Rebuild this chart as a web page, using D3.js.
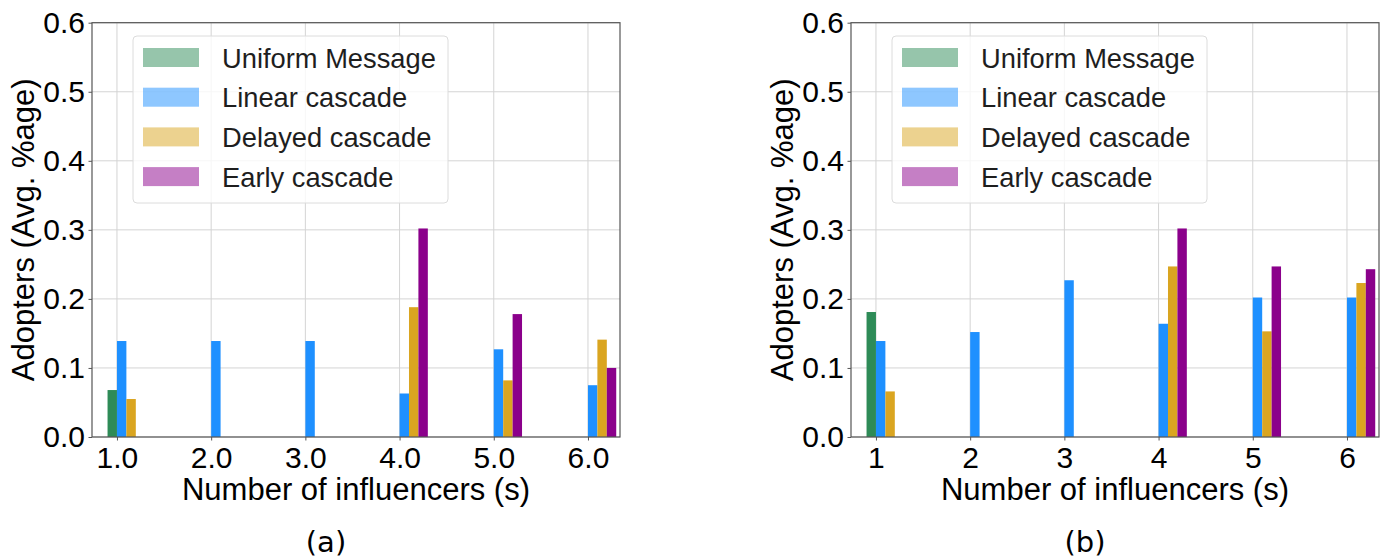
<!DOCTYPE html>
<html>
<head>
<meta charset="utf-8">
<script src="https://cdn.jsdelivr.net/npm/d3@7"></script>
<style>
  body { margin: 0; background: #fff; }
  svg { display: block; }
  text { font-family: "Liberation Sans", Arial, sans-serif; }
</style>
</head>
<body>
<div id="chart"></div>
<script>
// data
var influencers = [1, 2, 3, 4, 5, 6];
var xTickLabelsA = ["1.0", "2.0", "3.0", "4.0", "5.0", "6.0"];
var xTickLabelsB = ["1", "2", "3", "4", "5", "6"];
var yTicks = [0, 0.1, 0.2, 0.3, 0.4, 0.5, 0.6];
var seriesNames = ["Uniform Message", "Linear cascade", "Delayed cascade", "Early cascade"];

// panel (a)
var uniformA = [0.068, 0, 0, 0, 0, 0];
var linearA = [0.139, 0.139, 0.139, 0.063, 0.127, 0.075];
var delayedA = [0.055, 0, 0, 0.188, 0.082, 0.141];
var earlyA = [0, 0, 0, 0.302, 0.178, 0.100];

// panel (b)
var uniformB = [0.181, 0, 0, 0, 0, 0];
var linearB = [0.139, 0.152, 0.227, 0.164, 0.202, 0.202];
var delayedB = [0.066, 0, 0, 0.247, 0.153, 0.223];
var earlyB = [0, 0, 0, 0.302, 0.247, 0.243];

var colors = ["#2e8b57", "#1e90ff", "#daa520", "#8b008b"];

var svgWidth = 1388;
var svgHeight = 559;

var svg = d3.select("#chart")
  .append("svg")
  .attr("width", svgWidth)
  .attr("height", svgHeight);

function drawPanel(left, tickLabels, series, caption) {
  var top = 22.7, plotW = 528, plotH = 414.3;
  var g = svg.append("g").attr("transform", `translate(${left}, ${top})`);

  var x = d3.scaleLinear().domain([0.735, 6.34]).range([0, plotW]);
  var y = d3.scaleLinear().domain([0, 0.6]).range([plotH, 0]);

  // grid
  g.append("g").selectAll("line")
    .data(yTicks).enter().append("line")
    .attr("x1", 0).attr("x2", plotW)
    .attr("y1", d => y(d)).attr("y2", d => y(d))
    .attr("stroke", "#d4d4d4").attr("stroke-width", 1);
  g.append("g").selectAll("line")
    .data(influencers).enter().append("line")
    .attr("x1", d => x(d)).attr("x2", d => x(d))
    .attr("y1", 0).attr("y2", plotH)
    .attr("stroke", "#d4d4d4").attr("stroke-width", 1);

  // bars: each series shifted by 0.1 along x
  var bw = x(0.1) - x(0);
  series.forEach(function(vals, i) {
    var off = (i - 1) * 0.1;
    g.append("g").selectAll("rect")
      .data(vals).enter().append("rect")
      .attr("x", (d, j) => x(influencers[j] + off))
      .attr("y", d => y(d))
      .attr("width", bw)
      .attr("height", d => plotH - y(d))
      .attr("fill", colors[i]);
  });

  // axes
  var xAxis = d3.axisBottom(x)
    .tickValues(influencers)
    .tickFormat((d, i) => tickLabels[i])
    .tickSize(3.5).tickPadding(6.5);
  var yAxis = d3.axisLeft(y)
    .tickValues(yTicks)
    .tickFormat(d3.format(".1f"))
    .tickSize(3.5).tickPadding(3.5);

  var xa = g.append("g").attr("transform", `translate(0, ${plotH})`).call(xAxis);
  var ya = g.append("g").call(yAxis);
  [xa, ya].forEach(function(a) {
    a.select(".domain").remove();
    a.selectAll("line").attr("stroke", "#555");
    a.selectAll("text").attr("font-size", 30).attr("fill", "#000")
      .style("font-family", "'Liberation Sans', Arial, sans-serif");
  });

  // frame
  g.append("rect")
    .attr("width", plotW).attr("height", plotH)
    .attr("fill", "none").attr("stroke", "#555").attr("stroke-width", 1.2);

  // legend
  var lg = g.append("g").attr("transform", "translate(41, 13.3)");
  lg.append("rect")
    .attr("width", 315).attr("height", 167)
    .attr("rx", 4).attr("ry", 4)
    .attr("fill", "#fff").attr("fill-opacity", 0.8)
    .attr("stroke", "#dcdcdc");
  seriesNames.forEach(function(name, i) {
    var row = lg.append("g").attr("transform", `translate(0, ${12 + i * 39.7})`);
    row.append("rect")
      .attr("x", 10).attr("y", 0)
      .attr("width", 56).attr("height", 19)
      .attr("fill", colors[i]).attr("fill-opacity", 0.5);
    row.append("text")
      .attr("x", 89).attr("y", 19.5)
      .attr("font-size", 27.3).attr("fill", "#1e1e1e")
      .text(name);
  });

  // axis titles
  g.append("text")
    .attr("x", plotW / 2).attr("y", 477.3)
    .attr("text-anchor", "middle")
    .attr("font-size", 31)
    .text("Number of influencers (s)");
  g.append("text")
    .attr("transform", "rotate(-90)")
    .attr("x", -plotH / 2).attr("y", -58.5)
    .attr("text-anchor", "middle")
    .attr("font-size", 31)
    .text("Adopters (Avg. %age)");

  g.append("text")
    .attr("x", plotW / 2 - 30).attr("y", 529)
    .attr("text-anchor", "middle")
    .attr("font-size", 29)
    .style("font-family", "'DejaVu Sans', sans-serif")
    .text(caption);
}

drawPanel(92, xTickLabelsA, [uniformA, linearA, delayedA, earlyA], "(a)");
drawPanel(851, xTickLabelsB, [uniformB, linearB, delayedB, earlyB], "(b)");
</script>
</body>
</html>
